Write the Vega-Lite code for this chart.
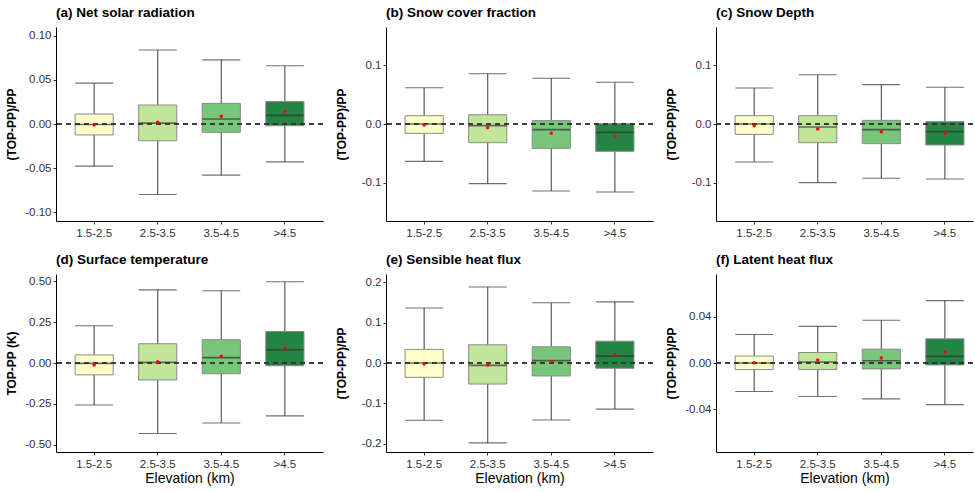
{
  "$schema": "https://vega.github.io/schema/vega-lite/v6.json",
  "padding": {"left": 5, "top": 5, "right": 0, "bottom": 0},
  "background": "white",
  "config": {
    "font": "Liberation Sans",
    "view": {"stroke": null},
    "axis": {"domainColor": "black", "domainWidth": 1, "tickColor": "#333333", "tickSize": 3, "labelColor": "#333333", "labelFontSize": 11.5, "labelFont": "Liberation Sans", "titleFont": "Liberation Sans", "titleColor": "black", "grid": false, "labelPadding": 2},
    "axisX": {"labelAngle": 0, "titleFontSize": 14, "titleFontWeight": "normal", "labelPadding": 3, "titlePadding": 2},
    "axisY": {"titleFontSize": 12, "titleFontWeight": "bold", "titleX": -38, "titleBaseline": "bottom"},
    "title": {"anchor": "start", "frame": "group", "fontSize": 13.5, "fontWeight": "bold", "font": "Liberation Sans", "color": "black", "offset": 8}
  },
  "datasets": {
    "stats": [
      {"panel": "a", "cat": "1.5-2.5", "lo": -0.0478, "q1": -0.0124, "med": -0.0005, "q3": 0.0113, "hi": 0.0463, "mean": -0.001},
      {"panel": "a", "cat": "2.5-3.5", "lo": -0.080, "q1": -0.019, "med": 0.001, "q3": 0.0215, "hi": 0.084, "mean": 0.002},
      {"panel": "a", "cat": "3.5-4.5", "lo": -0.058, "q1": -0.0094, "med": 0.0056, "q3": 0.0234, "hi": 0.0727, "mean": 0.0087},
      {"panel": "a", "cat": ">4.5", "lo": -0.043, "q1": -0.0019, "med": 0.0098, "q3": 0.0256, "hi": 0.066, "mean": 0.0143},
      {"panel": "b", "cat": "1.5-2.5", "lo": -0.0635, "q1": -0.0159, "med": 0.0, "q3": 0.0141, "hi": 0.0617, "mean": -0.0017},
      {"panel": "b", "cat": "2.5-3.5", "lo": -0.1015, "q1": -0.0317, "med": -0.0028, "q3": 0.0158, "hi": 0.0856, "mean": -0.0062},
      {"panel": "b", "cat": "3.5-4.5", "lo": -0.114, "q1": -0.0414, "med": -0.0096, "q3": 0.0057, "hi": 0.0777, "mean": -0.0159},
      {"panel": "b", "cat": ">4.5", "lo": -0.1157, "q1": -0.0465, "med": -0.0142, "q3": 0.0005, "hi": 0.0709, "mean": -0.0215},
      {"panel": "c", "cat": "1.5-2.5", "lo": -0.0646, "q1": -0.0176, "med": 0.0, "q3": 0.0141, "hi": 0.0612, "mean": -0.0028},
      {"panel": "c", "cat": "2.5-3.5", "lo": -0.0998, "q1": -0.0317, "med": -0.0051, "q3": 0.0141, "hi": 0.0839, "mean": -0.0085},
      {"panel": "c", "cat": "3.5-4.5", "lo": -0.0924, "q1": -0.0334, "med": -0.0096, "q3": 0.0062, "hi": 0.0669, "mean": -0.013},
      {"panel": "c", "cat": ">4.5", "lo": -0.0935, "q1": -0.0357, "med": -0.013, "q3": 0.004, "hi": 0.0624, "mean": -0.0159},
      {"panel": "d", "cat": "1.5-2.5", "lo": -0.257, "q1": -0.0726, "med": -0.002, "q3": 0.0498, "hi": 0.228, "mean": -0.0125},
      {"panel": "d", "cat": "2.5-3.5", "lo": -0.432, "q1": -0.104, "med": 0.004, "q3": 0.118, "hi": 0.448, "mean": 0.008},
      {"panel": "d", "cat": "3.5-4.5", "lo": -0.367, "q1": -0.066, "med": 0.033, "q3": 0.143, "hi": 0.442, "mean": 0.0415},
      {"panel": "d", "cat": ">4.5", "lo": -0.324, "q1": -0.0166, "med": 0.081, "q3": 0.193, "hi": 0.498, "mean": 0.091},
      {"panel": "e", "cat": "1.5-2.5", "lo": -0.1416, "q1": -0.0354, "med": 0.0, "q3": 0.0337, "hi": 0.136, "mean": -0.0025},
      {"panel": "e", "cat": "2.5-3.5", "lo": -0.1975, "q1": -0.052, "med": -0.0058, "q3": 0.045, "hi": 0.188, "mean": -0.005},
      {"panel": "e", "cat": "3.5-4.5", "lo": -0.141, "q1": -0.032, "med": 0.0058, "q3": 0.040, "hi": 0.149, "mean": 0.004},
      {"panel": "e", "cat": ">4.5", "lo": -0.114, "q1": -0.013, "med": 0.017, "q3": 0.054, "hi": 0.151, "mean": 0.0206},
      {"panel": "f", "cat": "1.5-2.5", "lo": -0.0246, "q1": -0.0057, "med": 0.0, "q3": 0.006, "hi": 0.0246, "mean": 0.0003},
      {"panel": "f", "cat": "2.5-3.5", "lo": -0.029, "q1": -0.0057, "med": 0.0009, "q3": 0.0091, "hi": 0.0317, "mean": 0.0026},
      {"panel": "f", "cat": "3.5-4.5", "lo": -0.031, "q1": -0.0051, "med": 0.002, "q3": 0.012, "hi": 0.037, "mean": 0.0043},
      {"panel": "f", "cat": ">4.5", "lo": -0.036, "q1": -0.0017, "med": 0.0057, "q3": 0.0209, "hi": 0.054, "mean": 0.0097}
    ]
  },
  "columns": 3,
  "bounds": "flush",
  "align": "each",
  "spacing": {"row": 53, "column": 63},
  "concat": [
    {
      "width": 267, "height": 194,
      "title": {"text": "(a) Net solar radiation"},
      "data": {"name": "stats"},
      "transform": [{"filter": "datum.panel === 'a'"}],
      "layer": [
        {"mark": {"type": "rule", "color": "#4d4d4d", "strokeWidth": 1.1}, "encoding": {"x": {"field": "cat", "type": "nominal", "sort": ["1.5-2.5", "2.5-3.5", "3.5-4.5", ">4.5"], "scale": {"type": "band", "paddingInner": 0.4, "paddingOuter": 0.3}, "title": null}, "y": {"field": "lo", "type": "quantitative", "scale": {"domain": [-0.11, 0.11], "nice": false, "zero": false}, "axis": {"values": [-0.1, -0.05, 0, 0.05, 0.1], "labelExpr": "datum.value < 0 ? '-' + format(-datum.value, '.2f') : format(datum.value, '.2f')"}, "title": "(TOP-PP)/PP"}, "y2": {"field": "hi"}}},
        {"mark": {"type": "tick", "color": "#333333", "size": 38, "thickness": 1.1}, "encoding": {"x": {"field": "cat", "type": "nominal", "sort": ["1.5-2.5", "2.5-3.5", "3.5-4.5", ">4.5"], "title": null}, "y": {"field": "lo", "type": "quantitative", "title": "(TOP-PP)/PP"}}},
        {"mark": {"type": "tick", "color": "#333333", "size": 38, "thickness": 1.1}, "encoding": {"x": {"field": "cat", "type": "nominal", "sort": ["1.5-2.5", "2.5-3.5", "3.5-4.5", ">4.5"], "title": null}, "y": {"field": "hi", "type": "quantitative", "title": "(TOP-PP)/PP"}}},
        {"mark": {"type": "bar", "stroke": "#8a8a8a", "strokeWidth": 1}, "encoding": {"x": {"field": "cat", "type": "nominal", "sort": ["1.5-2.5", "2.5-3.5", "3.5-4.5", ">4.5"], "title": null}, "y": {"field": "q1", "type": "quantitative", "title": "(TOP-PP)/PP"}, "y2": {"field": "q3"}, "fill": {"field": "cat", "type": "nominal", "scale": {"domain": ["1.5-2.5", "2.5-3.5", "3.5-4.5", ">4.5"], "range": ["#FFFFCC", "#C2E699", "#78C679", "#238443"]}, "legend": null}}},
        {"mark": {"type": "tick", "color": "#333333", "size": 38, "thickness": 1.6}, "encoding": {"x": {"field": "cat", "type": "nominal", "sort": ["1.5-2.5", "2.5-3.5", "3.5-4.5", ">4.5"], "title": null}, "y": {"field": "med", "type": "quantitative", "title": "(TOP-PP)/PP"}}},
        {"mark": {"type": "rule", "color": "#333333", "strokeDash": [5, 4], "strokeWidth": 1.2}, "encoding": {"y": {"datum": 0, "type": "quantitative"}}},
        {"mark": {"type": "point", "filled": true, "color": "#FF0000", "opacity": 1, "size": 12}, "encoding": {"x": {"field": "cat", "type": "nominal", "sort": ["1.5-2.5", "2.5-3.5", "3.5-4.5", ">4.5"], "title": null}, "y": {"field": "mean", "type": "quantitative", "title": "(TOP-PP)/PP"}}}
      ]
    },
    {
      "width": 267, "height": 194,
      "title": {"text": "(b) Snow cover fraction"},
      "data": {"name": "stats"},
      "transform": [{"filter": "datum.panel === 'b'"}],
      "layer": [
        {"mark": {"type": "rule", "color": "#4d4d4d", "strokeWidth": 1.1}, "encoding": {"x": {"field": "cat", "type": "nominal", "sort": ["1.5-2.5", "2.5-3.5", "3.5-4.5", ">4.5"], "scale": {"type": "band", "paddingInner": 0.4, "paddingOuter": 0.3}, "title": null}, "y": {"field": "lo", "type": "quantitative", "scale": {"domain": [-0.165, 0.165], "nice": false, "zero": false}, "axis": {"values": [-0.1, 0, 0.1], "labelExpr": "datum.value < 0 ? '-' + format(-datum.value, '.1f') : format(datum.value, '.1f')"}, "title": "(TOP-PP)/PP"}, "y2": {"field": "hi"}}},
        {"mark": {"type": "tick", "color": "#333333", "size": 38, "thickness": 1.1}, "encoding": {"x": {"field": "cat", "type": "nominal", "sort": ["1.5-2.5", "2.5-3.5", "3.5-4.5", ">4.5"], "title": null}, "y": {"field": "lo", "type": "quantitative", "title": "(TOP-PP)/PP"}}},
        {"mark": {"type": "tick", "color": "#333333", "size": 38, "thickness": 1.1}, "encoding": {"x": {"field": "cat", "type": "nominal", "sort": ["1.5-2.5", "2.5-3.5", "3.5-4.5", ">4.5"], "title": null}, "y": {"field": "hi", "type": "quantitative", "title": "(TOP-PP)/PP"}}},
        {"mark": {"type": "bar", "stroke": "#8a8a8a", "strokeWidth": 1}, "encoding": {"x": {"field": "cat", "type": "nominal", "sort": ["1.5-2.5", "2.5-3.5", "3.5-4.5", ">4.5"], "title": null}, "y": {"field": "q1", "type": "quantitative", "title": "(TOP-PP)/PP"}, "y2": {"field": "q3"}, "fill": {"field": "cat", "type": "nominal", "scale": {"domain": ["1.5-2.5", "2.5-3.5", "3.5-4.5", ">4.5"], "range": ["#FFFFCC", "#C2E699", "#78C679", "#238443"]}, "legend": null}}},
        {"mark": {"type": "tick", "color": "#333333", "size": 38, "thickness": 1.6}, "encoding": {"x": {"field": "cat", "type": "nominal", "sort": ["1.5-2.5", "2.5-3.5", "3.5-4.5", ">4.5"], "title": null}, "y": {"field": "med", "type": "quantitative", "title": "(TOP-PP)/PP"}}},
        {"mark": {"type": "rule", "color": "#333333", "strokeDash": [5, 4], "strokeWidth": 1.2}, "encoding": {"y": {"datum": 0, "type": "quantitative"}}},
        {"mark": {"type": "point", "filled": true, "color": "#FF0000", "opacity": 1, "size": 12}, "encoding": {"x": {"field": "cat", "type": "nominal", "sort": ["1.5-2.5", "2.5-3.5", "3.5-4.5", ">4.5"], "title": null}, "y": {"field": "mean", "type": "quantitative", "title": "(TOP-PP)/PP"}}}
      ]
    },
    {
      "width": 257, "height": 194,
      "title": {"text": "(c) Snow Depth"},
      "data": {"name": "stats"},
      "transform": [{"filter": "datum.panel === 'c'"}],
      "layer": [
        {"mark": {"type": "rule", "color": "#4d4d4d", "strokeWidth": 1.1}, "encoding": {"x": {"field": "cat", "type": "nominal", "sort": ["1.5-2.5", "2.5-3.5", "3.5-4.5", ">4.5"], "scale": {"type": "band", "paddingInner": 0.4, "paddingOuter": 0.2215, "align": 0.679}, "title": null}, "y": {"field": "lo", "type": "quantitative", "scale": {"domain": [-0.165, 0.165], "nice": false, "zero": false}, "axis": {"values": [-0.1, 0, 0.1], "labelExpr": "datum.value < 0 ? '-' + format(-datum.value, '.1f') : format(datum.value, '.1f')"}, "title": "(TOP-PP)/PP"}, "y2": {"field": "hi"}}},
        {"mark": {"type": "tick", "color": "#333333", "size": 38, "thickness": 1.1}, "encoding": {"x": {"field": "cat", "type": "nominal", "sort": ["1.5-2.5", "2.5-3.5", "3.5-4.5", ">4.5"], "title": null}, "y": {"field": "lo", "type": "quantitative", "title": "(TOP-PP)/PP"}}},
        {"mark": {"type": "tick", "color": "#333333", "size": 38, "thickness": 1.1}, "encoding": {"x": {"field": "cat", "type": "nominal", "sort": ["1.5-2.5", "2.5-3.5", "3.5-4.5", ">4.5"], "title": null}, "y": {"field": "hi", "type": "quantitative", "title": "(TOP-PP)/PP"}}},
        {"mark": {"type": "bar", "stroke": "#8a8a8a", "strokeWidth": 1}, "encoding": {"x": {"field": "cat", "type": "nominal", "sort": ["1.5-2.5", "2.5-3.5", "3.5-4.5", ">4.5"], "title": null}, "y": {"field": "q1", "type": "quantitative", "title": "(TOP-PP)/PP"}, "y2": {"field": "q3"}, "fill": {"field": "cat", "type": "nominal", "scale": {"domain": ["1.5-2.5", "2.5-3.5", "3.5-4.5", ">4.5"], "range": ["#FFFFCC", "#C2E699", "#78C679", "#238443"]}, "legend": null}}},
        {"mark": {"type": "tick", "color": "#333333", "size": 38, "thickness": 1.6}, "encoding": {"x": {"field": "cat", "type": "nominal", "sort": ["1.5-2.5", "2.5-3.5", "3.5-4.5", ">4.5"], "title": null}, "y": {"field": "med", "type": "quantitative", "title": "(TOP-PP)/PP"}}},
        {"mark": {"type": "rule", "color": "#333333", "strokeDash": [5, 4], "strokeWidth": 1.2}, "encoding": {"y": {"datum": 0, "type": "quantitative"}}},
        {"mark": {"type": "point", "filled": true, "color": "#FF0000", "opacity": 1, "size": 12}, "encoding": {"x": {"field": "cat", "type": "nominal", "sort": ["1.5-2.5", "2.5-3.5", "3.5-4.5", ">4.5"], "title": null}, "y": {"field": "mean", "type": "quantitative", "title": "(TOP-PP)/PP"}}}
      ]
    },
    {
      "width": 267, "height": 178,
      "title": {"text": "(d) Surface temperature"},
      "data": {"name": "stats"},
      "transform": [{"filter": "datum.panel === 'd'"}],
      "layer": [
        {"mark": {"type": "rule", "color": "#4d4d4d", "strokeWidth": 1.1}, "encoding": {"x": {"field": "cat", "type": "nominal", "sort": ["1.5-2.5", "2.5-3.5", "3.5-4.5", ">4.5"], "scale": {"type": "band", "paddingInner": 0.4, "paddingOuter": 0.3}, "title": "Elevation (km)"}, "y": {"field": "lo", "type": "quantitative", "scale": {"domain": [-0.545, 0.545], "nice": false, "zero": false}, "axis": {"values": [-0.5, -0.25, 0, 0.25, 0.5], "labelExpr": "datum.value < 0 ? '-' + format(-datum.value, '.2f') : format(datum.value, '.2f')"}, "title": "TOP-PP (K)"}, "y2": {"field": "hi"}}},
        {"mark": {"type": "tick", "color": "#333333", "size": 38, "thickness": 1.1}, "encoding": {"x": {"field": "cat", "type": "nominal", "sort": ["1.5-2.5", "2.5-3.5", "3.5-4.5", ">4.5"], "title": "Elevation (km)"}, "y": {"field": "lo", "type": "quantitative", "title": "TOP-PP (K)"}}},
        {"mark": {"type": "tick", "color": "#333333", "size": 38, "thickness": 1.1}, "encoding": {"x": {"field": "cat", "type": "nominal", "sort": ["1.5-2.5", "2.5-3.5", "3.5-4.5", ">4.5"], "title": "Elevation (km)"}, "y": {"field": "hi", "type": "quantitative", "title": "TOP-PP (K)"}}},
        {"mark": {"type": "bar", "stroke": "#8a8a8a", "strokeWidth": 1}, "encoding": {"x": {"field": "cat", "type": "nominal", "sort": ["1.5-2.5", "2.5-3.5", "3.5-4.5", ">4.5"], "title": "Elevation (km)"}, "y": {"field": "q1", "type": "quantitative", "title": "TOP-PP (K)"}, "y2": {"field": "q3"}, "fill": {"field": "cat", "type": "nominal", "scale": {"domain": ["1.5-2.5", "2.5-3.5", "3.5-4.5", ">4.5"], "range": ["#FFFFCC", "#C2E699", "#78C679", "#238443"]}, "legend": null}}},
        {"mark": {"type": "tick", "color": "#333333", "size": 38, "thickness": 1.6}, "encoding": {"x": {"field": "cat", "type": "nominal", "sort": ["1.5-2.5", "2.5-3.5", "3.5-4.5", ">4.5"], "title": "Elevation (km)"}, "y": {"field": "med", "type": "quantitative", "title": "TOP-PP (K)"}}},
        {"mark": {"type": "rule", "color": "#333333", "strokeDash": [5, 4], "strokeWidth": 1.2}, "encoding": {"y": {"datum": 0, "type": "quantitative"}}},
        {"mark": {"type": "point", "filled": true, "color": "#FF0000", "opacity": 1, "size": 12}, "encoding": {"x": {"field": "cat", "type": "nominal", "sort": ["1.5-2.5", "2.5-3.5", "3.5-4.5", ">4.5"], "title": "Elevation (km)"}, "y": {"field": "mean", "type": "quantitative", "title": "TOP-PP (K)"}}}
      ]
    },
    {
      "width": 267, "height": 178,
      "title": {"text": "(e) Sensible heat flux"},
      "data": {"name": "stats"},
      "transform": [{"filter": "datum.panel === 'e'"}],
      "layer": [
        {"mark": {"type": "rule", "color": "#4d4d4d", "strokeWidth": 1.1}, "encoding": {"x": {"field": "cat", "type": "nominal", "sort": ["1.5-2.5", "2.5-3.5", "3.5-4.5", ">4.5"], "scale": {"type": "band", "paddingInner": 0.4, "paddingOuter": 0.3}, "title": "Elevation (km)"}, "y": {"field": "lo", "type": "quantitative", "scale": {"domain": [-0.22, 0.22], "nice": false, "zero": false}, "axis": {"values": [-0.2, -0.1, 0, 0.1, 0.2], "labelExpr": "datum.value < 0 ? '-' + format(-datum.value, '.1f') : format(datum.value, '.1f')"}, "title": "(TOP-PP)/PP"}, "y2": {"field": "hi"}}},
        {"mark": {"type": "tick", "color": "#333333", "size": 38, "thickness": 1.1}, "encoding": {"x": {"field": "cat", "type": "nominal", "sort": ["1.5-2.5", "2.5-3.5", "3.5-4.5", ">4.5"], "title": "Elevation (km)"}, "y": {"field": "lo", "type": "quantitative", "title": "(TOP-PP)/PP"}}},
        {"mark": {"type": "tick", "color": "#333333", "size": 38, "thickness": 1.1}, "encoding": {"x": {"field": "cat", "type": "nominal", "sort": ["1.5-2.5", "2.5-3.5", "3.5-4.5", ">4.5"], "title": "Elevation (km)"}, "y": {"field": "hi", "type": "quantitative", "title": "(TOP-PP)/PP"}}},
        {"mark": {"type": "bar", "stroke": "#8a8a8a", "strokeWidth": 1}, "encoding": {"x": {"field": "cat", "type": "nominal", "sort": ["1.5-2.5", "2.5-3.5", "3.5-4.5", ">4.5"], "title": "Elevation (km)"}, "y": {"field": "q1", "type": "quantitative", "title": "(TOP-PP)/PP"}, "y2": {"field": "q3"}, "fill": {"field": "cat", "type": "nominal", "scale": {"domain": ["1.5-2.5", "2.5-3.5", "3.5-4.5", ">4.5"], "range": ["#FFFFCC", "#C2E699", "#78C679", "#238443"]}, "legend": null}}},
        {"mark": {"type": "tick", "color": "#333333", "size": 38, "thickness": 1.6}, "encoding": {"x": {"field": "cat", "type": "nominal", "sort": ["1.5-2.5", "2.5-3.5", "3.5-4.5", ">4.5"], "title": "Elevation (km)"}, "y": {"field": "med", "type": "quantitative", "title": "(TOP-PP)/PP"}}},
        {"mark": {"type": "rule", "color": "#333333", "strokeDash": [5, 4], "strokeWidth": 1.2}, "encoding": {"y": {"datum": 0, "type": "quantitative"}}},
        {"mark": {"type": "point", "filled": true, "color": "#FF0000", "opacity": 1, "size": 12}, "encoding": {"x": {"field": "cat", "type": "nominal", "sort": ["1.5-2.5", "2.5-3.5", "3.5-4.5", ">4.5"], "title": "Elevation (km)"}, "y": {"field": "mean", "type": "quantitative", "title": "(TOP-PP)/PP"}}}
      ]
    },
    {
      "width": 257, "height": 178,
      "title": {"text": "(f) Latent heat flux"},
      "data": {"name": "stats"},
      "transform": [{"filter": "datum.panel === 'f'"}],
      "layer": [
        {"mark": {"type": "rule", "color": "#4d4d4d", "strokeWidth": 1.1}, "encoding": {"x": {"field": "cat", "type": "nominal", "sort": ["1.5-2.5", "2.5-3.5", "3.5-4.5", ">4.5"], "scale": {"type": "band", "paddingInner": 0.4, "paddingOuter": 0.2215, "align": 0.679}, "title": "Elevation (km)"}, "y": {"field": "lo", "type": "quantitative", "scale": {"domain": [-0.077, 0.077], "nice": false, "zero": false}, "axis": {"values": [-0.04, 0, 0.04], "labelExpr": "datum.value < 0 ? '-' + format(-datum.value, '.2f') : format(datum.value, '.2f')"}, "title": "(TOP-PP)/PP"}, "y2": {"field": "hi"}}},
        {"mark": {"type": "tick", "color": "#333333", "size": 38, "thickness": 1.1}, "encoding": {"x": {"field": "cat", "type": "nominal", "sort": ["1.5-2.5", "2.5-3.5", "3.5-4.5", ">4.5"], "title": "Elevation (km)"}, "y": {"field": "lo", "type": "quantitative", "title": "(TOP-PP)/PP"}}},
        {"mark": {"type": "tick", "color": "#333333", "size": 38, "thickness": 1.1}, "encoding": {"x": {"field": "cat", "type": "nominal", "sort": ["1.5-2.5", "2.5-3.5", "3.5-4.5", ">4.5"], "title": "Elevation (km)"}, "y": {"field": "hi", "type": "quantitative", "title": "(TOP-PP)/PP"}}},
        {"mark": {"type": "bar", "stroke": "#8a8a8a", "strokeWidth": 1}, "encoding": {"x": {"field": "cat", "type": "nominal", "sort": ["1.5-2.5", "2.5-3.5", "3.5-4.5", ">4.5"], "title": "Elevation (km)"}, "y": {"field": "q1", "type": "quantitative", "title": "(TOP-PP)/PP"}, "y2": {"field": "q3"}, "fill": {"field": "cat", "type": "nominal", "scale": {"domain": ["1.5-2.5", "2.5-3.5", "3.5-4.5", ">4.5"], "range": ["#FFFFCC", "#C2E699", "#78C679", "#238443"]}, "legend": null}}},
        {"mark": {"type": "tick", "color": "#333333", "size": 38, "thickness": 1.6}, "encoding": {"x": {"field": "cat", "type": "nominal", "sort": ["1.5-2.5", "2.5-3.5", "3.5-4.5", ">4.5"], "title": "Elevation (km)"}, "y": {"field": "med", "type": "quantitative", "title": "(TOP-PP)/PP"}}},
        {"mark": {"type": "rule", "color": "#333333", "strokeDash": [5, 4], "strokeWidth": 1.2}, "encoding": {"y": {"datum": 0, "type": "quantitative"}}},
        {"mark": {"type": "point", "filled": true, "color": "#FF0000", "opacity": 1, "size": 12}, "encoding": {"x": {"field": "cat", "type": "nominal", "sort": ["1.5-2.5", "2.5-3.5", "3.5-4.5", ">4.5"], "title": "Elevation (km)"}, "y": {"field": "mean", "type": "quantitative", "title": "(TOP-PP)/PP"}}}
      ]
    }
  ]
}
